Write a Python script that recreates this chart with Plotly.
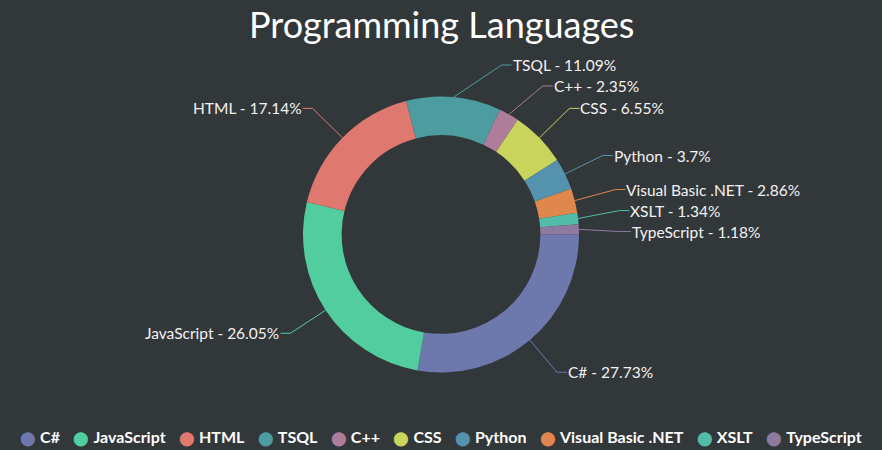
import math
import plotly.graph_objects as go

# ---- data ----
categories = ["C#", "JavaScript", "HTML", "TSQL", "C++", "CSS", "Python",
              "Visual Basic .NET", "XSLT", "TypeScript"]
values = [27.73, 26.05, 17.14, 11.09, 2.35, 6.55, 3.7, 2.86, 1.34, 1.18]
colors = ["#6D78AD", "#51CDA0", "#DF7970", "#4C9CA0", "#AE7D99", "#C9D45C",
          "#5592AD", "#DF874D", "#52BCA8", "#8E7AA0"]
title_text = "Programming Languages"

# ---- layout constants (pixels) ----
W, H = 882, 450
CX, CY, R = 441, 234.5, 138
HOLE = 0.72
R_ELBOW = 180
ARM = 10
GAP = 21
YMIN = 65
BG = "#32373A"
FONT = "Lato"
TXT = "#F2F2F2"


def px(x):
    return x / W


def py(y):
    return 1 - y / H


total = sum(values)
mids = []
acc = 0.0
for v in values:
    mids.append((acc + v / 2) / total * 2 * math.pi)
    acc += v

fig = go.Figure()
fig.add_trace(go.Pie(
    labels=categories, values=values, sort=False, direction="clockwise",
    rotation=90, hole=HOLE, textinfo="none", showlegend=False,
    marker=dict(colors=colors, line=dict(width=0)),
    domain=dict(x=[px(CX - R), px(CX + R)], y=[py(CY + R), py(CY - R)]),
))

# ---- index labels with leader lines ----
right, left = [], []
for i, m in enumerate(mids):
    y0 = CY + R_ELBOW * math.sin(m)
    (right if math.cos(m) >= 0 else left).append([i, y0])


def spread(items):
    items.sort(key=lambda t: t[1])
    for _ in range(300):
        if items and items[0][1] < YMIN:
            items[0][1] = YMIN
        for a, b in zip(items, items[1:]):
            d = b[1] - a[1]
            if d < GAP:
                s = (GAP - d) / 2
                a[1] -= s
                b[1] += s
    if items and items[0][1] < YMIN:
        items[0][1] = YMIN
    for a, b in zip(items, items[1:]):
        if b[1] - a[1] < GAP:
            b[1] = a[1] + GAP


spread(right)
spread(left)

shapes = []
annotations = []
for side, items in ((1, right), (-1, left)):
    for i, ey in items:
        m = mids[i]
        dy = max(-R_ELBOW, min(R_ELBOW, ey - CY))
        ex = CX + side * math.sqrt(R_ELBOW ** 2 - dy ** 2)
        sx = CX + R * math.cos(m)
        sy = CY + R * math.sin(m)
        tx = ex + side * ARM
        col = colors[i]
        shapes.append(dict(type="line", xref="paper", yref="paper",
                           x0=px(sx), y0=py(sy), x1=px(ex), y1=py(ey),
                           line=dict(color=col, width=1)))
        shapes.append(dict(type="line", xref="paper", yref="paper",
                           x0=px(ex), y0=py(ey), x1=px(tx), y1=py(ey),
                           line=dict(color=col, width=1)))
        annotations.append(dict(
            text=f"{categories[i]} - {values[i]:g}%", x=px(tx), y=py(ey),
            xref="paper", yref="paper", showarrow=False,
            xanchor="left" if side > 0 else "right", yanchor="middle",
            borderpad=0, font=dict(family=FONT, size=15.5, color=TXT)))

# ---- title ----
annotations.append(dict(text=title_text, x=0.5, y=py(24), xref="paper",
                        yref="paper", showarrow=False, xanchor="center",
                        yanchor="middle",
                        font=dict(family=FONT, size=36, color="#FFFFFF")))

# ---- legend (one centered line) ----
sp = '<span style="font-size:13px">' + "\u00a0" * 4 + "</span>"
parts = [f'<span style="color:{c};font-size:13.5px">⬤</span>\u00a0<b>{n}</b>'
         for n, c in zip(categories, colors)]
annotations.append(dict(text=sp.join(parts), x=0.5, y=py(437), xref="paper",
                        yref="paper", showarrow=False, xanchor="center",
                        yanchor="middle", borderpad=0,
                        font=dict(family=FONT, size=16, color="#FFFFFF")))

fig.update_layout(
    width=W, height=H, margin=dict(l=0, r=0, t=0, b=0),
    paper_bgcolor=BG, plot_bgcolor=BG,
    shapes=shapes, annotations=annotations,
    xaxis=dict(visible=False), yaxis=dict(visible=False),
)

fig.write_html("out.html")
